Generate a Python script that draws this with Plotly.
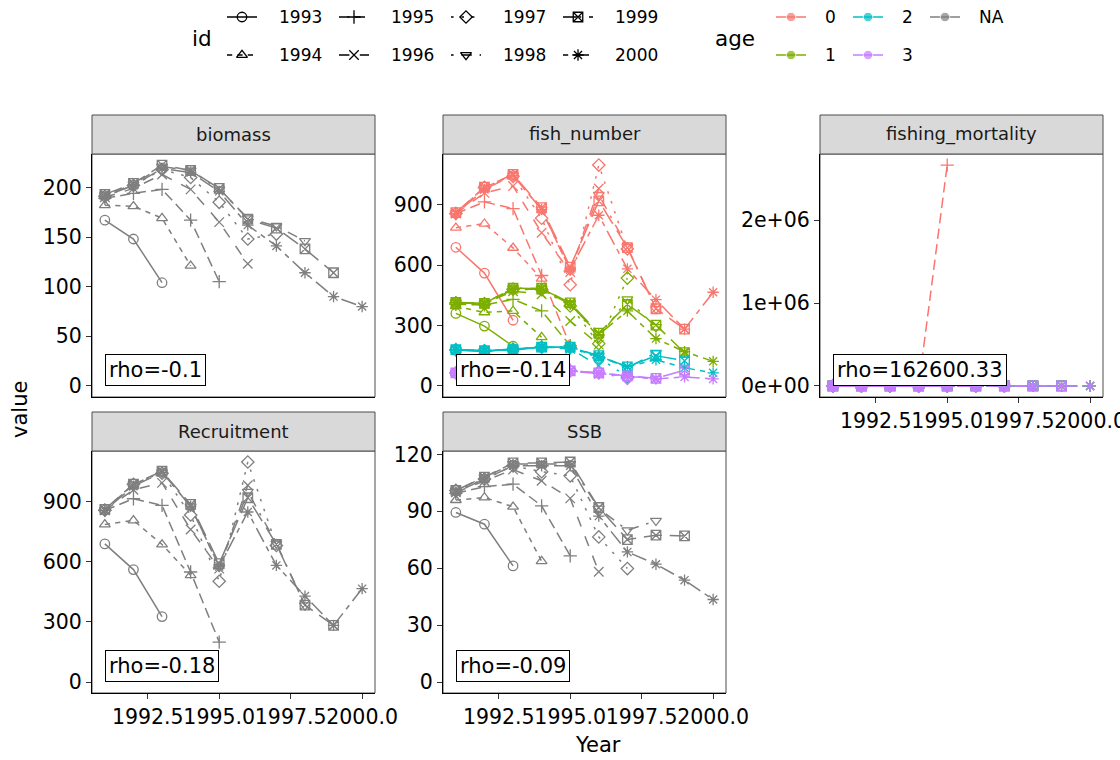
import plotly.graph_objects as go

# ---------------- data ----------------
years = [1991, 1992, 1993, 1994, 1995, 1996, 1997, 1998, 1999, 2000]
ids = [1993, 1994, 1995, 1996, 1997, 1998, 1999, 2000]
ages = [0, 1, 2, 3]

biomass = {
    1993: [167, 148, 104],
    1994: [182, 181, 169, 121],
    1995: [189, 194, 198, 167, 105],
    1996: [190, 199, 213, 198, 165, 123],
    1997: [191, 202, 218, 210, 185, 148, 153],
    1998: [192, 203, 221, 217, 198, 169, 161, 146],
    1999: [193, 204, 222.5, 217, 199, 168, 159, 138, 114],
    2000: [191, 202, 219, 215, 196, 162, 141, 114, 90, 80],
}

recruitment = {
    1993: [688, 560, 326],
    1994: [785, 805, 685, 532],
    1995: [855, 913, 880, 548, 199],
    1996: [855, 958, 992, 760, 565, 980],
    1997: [856, 985, 1040, 832, 502, 1096, 680],
    1998: [857, 985, 1045, 875, 573, 948, 690, 382],
    1999: [860, 986, 1050, 885, 590, 918, 686, 383, 282],
    2000: [855, 975, 1045, 876, 576, 847, 581, 428, 282, 465],
}

fish_age1 = {
    1993: [360, 297, 197],
    1994: [395, 365, 372, 242],
    1995: [405, 402, 430, 372, 200],
    1996: [410, 410, 470, 455, 322, 205],
    1997: [412, 408, 480, 478, 397, 210, 535],
    1998: [415, 410, 485, 483, 410, 240, 430, 292],
    1999: [415, 410, 485, 485, 412, 262, 405, 302, 165],
    2000: [415, 405, 480, 480, 405, 255, 372, 235, 170, 122],
}

fish_age2 = {
    1993: [178, 172, 185],
    1994: [178, 172, 182, 190],
    1995: [178, 172, 182, 195, 190],
    1996: [180, 175, 180, 192, 185, 100],
    1997: [180, 175, 180, 192, 190, 140, 45],
    1998: [180, 175, 180, 192, 192, 150, 90, 165],
    1999: [180, 175, 180, 193, 193, 150, 95, 150, 125],
    2000: [180, 175, 180, 192, 190, 145, 95, 130, 90, 65],
}

fish_age3 = {
    1993: [65, 70, 75],
    1994: [65, 70, 75, 80],
    1995: [65, 70, 75, 80, 78],
    1996: [65, 70, 75, 78, 75, 60],
    1997: [65, 70, 75, 78, 75, 65, 38],
    1998: [65, 70, 75, 78, 75, 65, 50, 35],
    1999: [65, 70, 75, 78, 75, 65, 50, 38, 78],
    2000: [65, 70, 75, 78, 75, 62, 48, 35, 45, 35],
}

ssb = {
    1993: [89.4, 83.2, 61.2],
    1994: [95.9, 97.3, 92.4, 63.7],
    1995: [99.5, 103, 104.3, 92.9, 66.5],
    1996: [100, 106, 112, 106.1, 96.8, 58.1],
    1997: [101, 107, 114, 110.9, 108.7, 76.5, 59.8],
    1998: [101, 108, 115, 115, 115, 91.5, 80, 85],
    1999: [101, 108, 115.5, 115.5, 116, 92, 75.1, 77.4, 77],
    2000: [100, 107, 114, 114, 114, 87.5, 68.6, 62.1, 53.7, 43.5],
}

# fishing mortality by age (values along the terminal-year runs)
f_age0 = {
    1993: [0.2, 0.3, 0.3],
    1994: [0.2, 0.3, 0.3, 0.4],
    1995: [0.2, 0.3, 0.3, 0.4, 2667000],
    1996: [0.2, 0.3, 0.3, 0.4, 0.4, 0.3],
    1997: [0.2, 0.3, 0.3, 0.4, 0.4, 0.3, 0.3],
    1998: [0.2, 0.3, 0.3, 0.4, 0.4, 0.3, 0.3, 0.4],
    1999: [0.2, 0.3, 0.3, 0.4, 0.4, 0.3, 0.3, 0.4, 0.4],
    2000: [0.2, 0.3, 0.3, 0.4, 0.4, 0.3, 0.3, 0.4, 0.4, 0.5],
}
f_age1 = [0.5, 0.6, 0.6, 0.7, 0.8, 0.7, 0.7, 0.8, 0.8, 0.9]
f_age2 = [0.7, 0.8, 0.8, 0.9, 1.0, 0.9, 0.9, 1.0, 1.0, 1.1]
f_age3 = [0.7, 0.8, 0.8, 0.9, 1.0, 0.9, 0.9, 1.0, 1.0, 1.1]

rho_text = {
    "biomass": "-0.1",
    "fish_number": "-0.14",
    "fishing_mortality": "162600.33",
    "Recruitment": "-0.18",
    "SSB": "-0.09",
}

x_tick_vals = [1992.5, 1995.0, 1997.5, 2000.0]
x_tick_text = ["1992.5", "1995.0", "1997.5", "2000.0"]
y_ticks = {
    "biomass": ([0, 50, 100, 150, 200], ["0", "50", "100", "150", "200"]),
    "fish_number": ([0, 300, 600, 900], ["0", "300", "600", "900"]),
    "fishing_mortality": ([0, 1e6, 2e6], ["0e+00", "1e+06", "2e+06"]),
    "Recruitment": ([0, 300, 600, 900], ["0", "300", "600", "900"]),
    "SSB": ([0, 30, 60, 90, 120], ["0", "30", "60", "90", "120"]),
}

# ---------------- styles ----------------
W, H = 1120, 760
FONT = "DejaVu Sans"
TICK_SIZE = 20.5
age_colors = {0: "#F8766D", 1: "#7CAE00", 2: "#00BFC4", 3: "#C77CFF", None: "#7F7F7F"}
symbols = ["circle-open", "triangle-up-open", "cross-thin-open", "x-thin-open",
           "diamond-open", "triangle-down-open", "square-x-open", "asterisk-open"]
linetypes = ["solid", "22", "42", "44", "13", "1343", "73", "2262"]
UNIT = 2.6


def dash_of(lt):
    if lt == "solid":
        return "solid"
    return ",".join(f"{int(c, 16) * UNIT:.1f}px" for c in lt)


LW = 1.5
MS = 9.5


def sliced(base):
    return {i: base[: i - years[0] + 1] for i in ids}


panels = [
    ("biomass", 0, 0, [(None, biomass)]),
    ("fish_number", 1, 0, [(0, recruitment), (1, fish_age1), (2, fish_age2), (3, fish_age3)]),
    ("fishing_mortality", 2, 0, [(0, f_age0), (1, sliced(f_age1)), (2, sliced(f_age2)), (3, sliced(f_age3))]),
    ("Recruitment", 0, 1, [(None, recruitment)]),
    ("SSB", 1, 1, [(None, ssb)]),
]

col_x0 = [92, 443, 820]
PW = 283
strip_top = [115, 412]
panel_top = [154, 451]
panel_bot = [397, 693]

xr = (min(years), max(years))
xpad = 0.05 * (xr[1] - xr[0])
x_range = [xr[0] - xpad, xr[1] + xpad]

fig = go.Figure()
layout = dict(
    width=W, height=H, margin=dict(l=0, r=0, t=0, b=0, autoexpand=False),
    paper_bgcolor="white", plot_bgcolor="white", showlegend=False,
    font=dict(family=FONT, color="black"),
)
shapes = []
annotations = []

for k, (name, col, row, series) in enumerate(panels, start=1):
    xa = "x" if k == 1 else f"x{k}"
    ya = "y" if k == 1 else f"y{k}"
    all_vals = [0]
    for age, d in series:
        for i in ids:
            all_vals += d[i]
    lo, hi = min(all_vals), max(all_vals)
    pad = 0.05 * (hi - lo)
    bottom_row = (name in ("Recruitment", "SSB", "fishing_mortality"))

    x0 = col_x0[col] / W
    x1 = (col_x0[col] + PW) / W
    y0 = 1 - panel_bot[row] / H
    y1 = 1 - panel_top[row] / H
    layout["xaxis" if k == 1 else f"xaxis{k}"] = dict(
        domain=[x0, x1], range=x_range, anchor=ya, showgrid=False, zeroline=False,
        showline=True, linecolor="black", linewidth=1, automargin=False,
        ticks="outside" if bottom_row else "", ticklen=5, tickcolor="#333333",
        tickvals=x_tick_vals, ticktext=x_tick_text, tickangle=0, ticklabeloverflow="allow",
        showticklabels=bottom_row, tickfont=dict(size=TICK_SIZE, family=FONT, color="black"),
    )
    tv, tt = y_ticks[name]
    layout["yaxis" if k == 1 else f"yaxis{k}"] = dict(
        domain=[y0, y1], range=[lo - pad, hi + pad], anchor=xa, showgrid=False, zeroline=False,
        showline=True, linecolor="black", linewidth=1, automargin=False,
        ticks="outside", ticklen=5, tickcolor="#333333",
        tickvals=tv, ticktext=tt, tickfont=dict(size=TICK_SIZE, family=FONT, color="black"),
    )
    # panel border
    shapes.append(dict(type="rect", xref=f"{xa} domain", yref=f"{ya} domain", x0=0, x1=1, y0=0, y1=1,
                       line=dict(color="#4D4D4D", width=1), layer="below"))
    # strip
    shapes.append(dict(type="rect", xref="paper", yref="paper", x0=x0, x1=x1,
                       y0=y1, y1=1 - strip_top[row] / H,
                       fillcolor="#D9D9D9", line=dict(color="#4D4D4D", width=1), layer="above"))
    annotations.append(dict(xref="paper", yref="paper", x=(x0 + x1) / 2,
                            y=1 - (strip_top[row] + panel_top[row]) / 2 / H,
                            text=name, showarrow=False, font=dict(size=18, family=FONT, color="#1A1A1A"),
                            xanchor="center", yanchor="middle"))
    # lines first
    for age, d in series:
        for j, i in enumerate(ids):
            vals = d[i]
            fig.add_trace(go.Scatter(
                x=years[: len(vals)], y=vals, mode="lines", xaxis=xa, yaxis=ya,
                line=dict(color=age_colors[age], width=LW, dash=dash_of(linetypes[j])),
                hoverinfo="skip"))
    # then points
    for age, d in series:
        for j, i in enumerate(ids):
            vals = d[i]
            fig.add_trace(go.Scatter(
                x=years[: len(vals)], y=vals, mode="markers", xaxis=xa, yaxis=ya,
                marker=dict(symbol=symbols[j], size=MS, color=age_colors[age],
                            line=dict(width=1.3, color=age_colors[age])),
                cliponaxis=False, hoverinfo="skip"))
    # rho label
    annotations.append(dict(xref=xa, yref=ya, x=years[0], y=0, xanchor="left", yanchor="bottom",
                            text="rho=" + rho_text[name], showarrow=False,
                            font=dict(size=21, family=FONT, color="black"),
                            bgcolor="white", bordercolor="black", borderwidth=1, borderpad=3))

# axis titles
annotations.append(dict(xref="paper", yref="paper", x=20 / W, y=1 - 410 / H, text="value",
                        textangle=-90, showarrow=False, font=dict(size=21, family=FONT, color="black"),
                        xanchor="center", yanchor="middle"))
annotations.append(dict(xref="paper", yref="paper", x=598 / W, y=1 - 745 / H, text="Year",
                        showarrow=False, font=dict(size=21, family=FONT, color="black"),
                        xanchor="center", yanchor="middle"))

# ---------------- custom legends (top) ----------------
LX, LY = "x6", "y6"
layout["xaxis6"] = dict(domain=[0, 1], range=[0, W], visible=False, fixedrange=True, anchor="y6")
layout["yaxis6"] = dict(domain=[1 - 80 / H, 1], range=[80, 0], visible=False, fixedrange=True, anchor="x6")
row_y = [17, 55]
KEY_HALF = 15

annotations.append(dict(xref=LX, yref=LY, x=190, y=38, text="id", showarrow=False, xanchor="left",
                        yanchor="middle", font=dict(size=21.5, family=FONT, color="black")))
for j, i in enumerate(ids):
    c = 242 + 112 * (j // 2)
    yy = row_y[j % 2]
    fig.add_trace(go.Scatter(x=[c - KEY_HALF, c + KEY_HALF], y=[yy, yy], mode="lines", xaxis=LX, yaxis=LY,
                             line=dict(color="black", width=LW, dash=dash_of(linetypes[j])),
                             hoverinfo="skip", cliponaxis=False))
    fig.add_trace(go.Scatter(x=[c], y=[yy], mode="markers", xaxis=LX, yaxis=LY,
                             marker=dict(symbol=symbols[j], size=MS, color="black",
                                         line=dict(width=1.3, color="black")),
                             hoverinfo="skip", cliponaxis=False))
    annotations.append(dict(xref=LX, yref=LY, x=c + 35, y=yy, text=str(i), showarrow=False,
                            xanchor="left", yanchor="middle", font=dict(size=17, family=FONT, color="black")))

annotations.append(dict(xref=LX, yref=LY, x=713, y=38, text="age", showarrow=False, xanchor="left",
                        yanchor="middle", font=dict(size=21.5, family=FONT, color="black")))
age_levels = ages + [None]
for j, a in enumerate(age_levels):
    c = 791 + 77 * (j // 2)
    yy = row_y[j % 2]
    fig.add_trace(go.Scatter(x=[c - KEY_HALF, c, c + KEY_HALF], y=[yy, yy, yy], mode="lines+markers",
                             xaxis=LX, yaxis=LY,
                             line=dict(color=age_colors[a], width=LW),
                             marker=dict(symbol="circle", size=[0, MS, 0], color=age_colors[a]),
                             hoverinfo="skip", cliponaxis=False))
    annotations.append(dict(xref=LX, yref=LY, x=c + 32, y=yy, text="NA" if a is None else str(a),
                            showarrow=False, xanchor="left", yanchor="middle",
                            font=dict(size=17, family=FONT, color="black")))

layout["shapes"] = shapes
layout["annotations"] = annotations
fig.update_layout(**layout)
fig.write_html(
    "out.html",
    config={"displayModeBar": False, "staticPlot": True},
    post_script="document.body.style.margin='0';document.body.style.padding='0';"
                "document.body.style.overflow='hidden';",
)
